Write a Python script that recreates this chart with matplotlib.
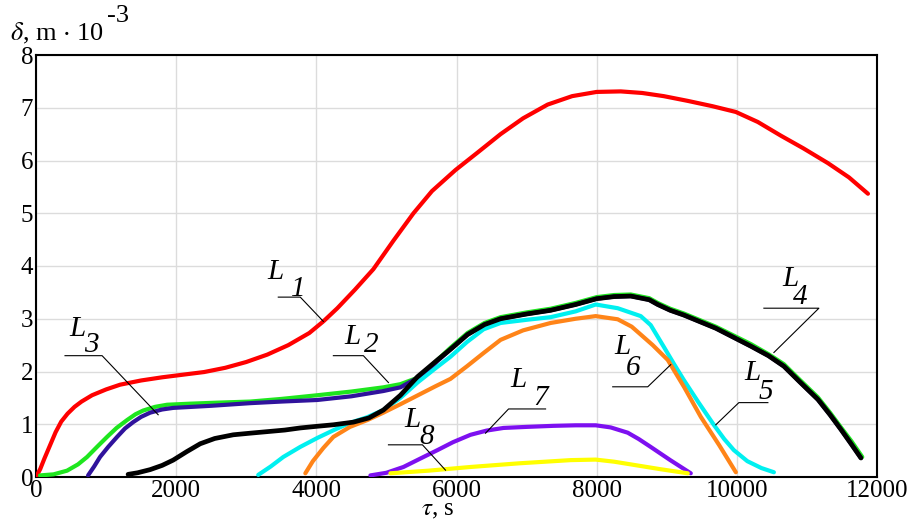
import numpy as np
import matplotlib.pyplot as plt

plt.rcParams['font.family'] = ['Liberation Serif', 'DejaVu Serif']
plt.rcParams['mathtext.fontset'] = 'stix'

# curves, tau in s, delta in m*1e-3
x_l1 = [0, 60, 120, 200, 280, 360, 450, 550, 650, 800, 1000, 1200, 1500, 1800, 2100,
        2400, 2700, 3000, 3300, 3600, 3900, 4100, 4300, 4550, 4814, 5100, 5386, 5650,
        5986, 6300, 6629, 6950, 7300, 7650, 8000, 8343, 8650, 8957, 9300, 9650, 9986,
        10300, 10629, 10950, 11300, 11600, 11871]
y_l1 = [0, 0.15, 0.35, 0.6, 0.85, 1.05, 1.2, 1.33, 1.43, 1.55, 1.66, 1.75, 1.83, 1.89, 1.94,
        1.99, 2.07, 2.18, 2.32, 2.5, 2.73, 2.95, 3.2, 3.55, 3.94, 4.48, 5.0, 5.42,
        5.82, 6.15, 6.5, 6.8, 7.06, 7.22, 7.30, 7.31, 7.28, 7.22, 7.13, 7.03, 6.92,
        6.73, 6.47, 6.23, 5.95, 5.68, 5.37]

x_green = [57, 250, 443, 600, 729, 870, 1014, 1150, 1300, 1420, 1529, 1700, 1871, 2200,
           2600, 3057, 3500, 4014, 4500, 4957, 5200, 5443, 5600, 5729, 5914, 6157, 6400,
           6629, 7000, 7343, 7700, 8000, 8250, 8486, 8750, 8871, 9050, 9243, 9700, 10200,
           10450, 10671, 10900, 11157, 11330, 11486, 11640, 11790]
y_green = [0.03, 0.05, 0.12, 0.24, 0.38, 0.57, 0.76, 0.93, 1.08, 1.19, 1.26, 1.33, 1.37, 1.39,
           1.41, 1.43, 1.48, 1.55, 1.62, 1.70, 1.76, 1.88, 2.05, 2.22, 2.45, 2.73, 2.92,
           3.03, 3.12, 3.19, 3.30, 3.41, 3.45, 3.46, 3.39, 3.30, 3.19, 3.10, 2.85, 2.52,
           2.33, 2.14, 1.84, 1.51, 1.22, 0.94, 0.67, 0.38]

x_blue = [743, 830, 914, 1030, 1157, 1270, 1386, 1500, 1629, 1800, 1957, 2500, 3057, 3500,
          4014, 4500, 4957, 5200, 5443, 5600, 5729, 5914, 6157, 6400, 6629, 7000, 7343,
          7700, 8000, 8250, 8486, 8750, 8871, 9050, 9243, 9700, 10200, 10450, 10671,
          10900, 11157, 11330, 11486, 11630, 11771]
y_blue = [0.03, 0.2, 0.38, 0.57, 0.76, 0.92, 1.04, 1.14, 1.22, 1.28, 1.31, 1.35, 1.40, 1.43,
          1.46, 1.53, 1.63, 1.70, 1.88, 2.03, 2.20, 2.42, 2.70, 2.89, 3.00, 3.09, 3.16,
          3.27, 3.38, 3.42, 3.43, 3.36, 3.27, 3.16, 3.07, 2.82, 2.48, 2.30, 2.10,
          1.80, 1.47, 1.18, 0.90, 0.63, 0.36]

x_l4 = [1314, 1450, 1629, 1800, 1957, 2150, 2343, 2550, 2814, 3050, 3300, 3550, 3771,
        4000, 4243, 4529, 4750, 4957, 5200, 5443, 5729, 5914, 6157, 6400, 6629, 7000,
        7343, 7700, 8000, 8250, 8486, 8750, 8871, 9050, 9243, 9700, 10200, 10450, 10671,
        10900, 11157, 11330, 11486, 11630, 11771]
y_l4 = [0.05, 0.08, 0.14, 0.22, 0.32, 0.48, 0.63, 0.73, 0.80, 0.83, 0.86, 0.89, 0.93,
        0.96, 0.99, 1.04, 1.12, 1.27, 1.55, 1.90, 2.22, 2.42, 2.70, 2.89, 3.00, 3.09,
        3.16, 3.27, 3.38, 3.42, 3.43, 3.36, 3.27, 3.16, 3.07, 2.82, 2.48, 2.30, 2.10,
        1.80, 1.47, 1.18, 0.90, 0.63, 0.36]

x_l5 = [3171, 3350, 3529, 3770, 4014, 4250, 4486, 4720, 4957, 5200, 5443, 5680, 5914,
        6150, 6386, 6629, 7000, 7343, 7700, 7986, 8300, 8629, 8771, 8957, 9100, 9243,
        9450, 9671, 9820, 9957, 10150, 10350, 10529]
y_l5 = [0.04, 0.2, 0.38, 0.57, 0.74, 0.89, 1.03, 1.13, 1.27, 1.50, 1.79, 2.04, 2.28,
        2.56, 2.80, 2.92, 2.98, 3.03, 3.14, 3.27, 3.20, 3.05, 2.88, 2.47, 2.15, 1.84,
        1.42, 0.99, 0.72, 0.51, 0.30, 0.17, 0.09]

x_l6 = [3843, 3950, 4100, 4243, 4480, 4729, 4957, 5200, 5450, 5700, 5914, 6150, 6386,
        6629, 6950, 7343, 7700, 7986, 8300, 8500, 8629, 8800, 9014, 9250, 9486, 9750, 9986]
y_l6 = [0.07, 0.3, 0.55, 0.76, 0.95, 1.08, 1.22, 1.38, 1.55, 1.72, 1.86, 2.1, 2.35,
        2.6, 2.78, 2.92, 3.0, 3.05, 2.99, 2.85, 2.70, 2.5, 2.22, 1.7, 1.14, 0.6, 0.09]

x_l7 = [4771, 5000, 5243, 5500, 5729, 5950, 6200, 6430, 6671, 7000, 7386, 7700, 7986,
        8200, 8443, 8600, 8771, 9050, 9343]
y_l7 = [0.03, 0.08, 0.19, 0.36, 0.51, 0.66, 0.80, 0.88, 0.93, 0.95, 0.97, 0.98, 0.98,
        0.94, 0.84, 0.72, 0.57, 0.32, 0.07]

x_l8 = [5057, 5600, 6200, 6900, 7629, 7986, 8250, 8529, 8900, 9300]
y_l8 = [0.07, 0.12, 0.19, 0.26, 0.32, 0.33, 0.29, 0.23, 0.15, 0.07]

# labels: subscript, L position, digit position, leader line points
labels = ["1", "2", "3", "4", "5", "6", "7", "8"]
lab_L = [(3414, 3.88), (4514, 2.66), (586, 2.80), (10771, 3.75),
         (10229, 1.98), (8371, 2.47), (6886, 1.84), (5371, 1.08)]
lab_d = [(3740, 3.56), (4783, 2.51), (783, 2.51), (10911, 3.41),
         (10411, 1.62), (8526, 2.07), (7197, 1.50), (5569, 0.76)]
leaders = [
    [(3457, 3.41), (3771, 3.41), (4100, 2.95)],
    [(4243, 2.30), (4671, 2.30), (5029, 1.79)],
    [(414, 2.30), (943, 2.30), (1743, 1.18)],
    [(10386, 3.20), (11171, 3.20), (10529, 2.36)],
    [(10443, 1.41), (10029, 1.41), (9700, 0.99)],
    [(8229, 1.71), (8729, 1.71), (9057, 2.13)],
    [(7271, 1.29), (6743, 1.29), (6414, 0.83)],
    [(5029, 0.61), (5514, 0.61), (5843, 0.13)],
]

fig = plt.figure(figsize=(9.1, 5.19), dpi=100)
ax = fig.add_axes([36 / 910, 42 / 519, 841 / 910, 422 / 519])

kw = dict(lw=3.0, solid_joinstyle="round", solid_capstyle="round", zorder=3)
ax.plot(x_l1, y_l1, color="#ff0000", **kw)
ax.plot(x_green, y_green, color="#1ee61e", **kw)
ax.plot(x_blue, y_blue, color="#30139c", **kw)
ax.plot(x_l5, y_l5, color="#00f0f0", **kw)
ax.plot(x_l6, y_l6, color="#ff8418", **kw)
ax.plot(x_l4, y_l4, color="black", lw=3.4, solid_joinstyle="round",
        solid_capstyle="round", zorder=3.5)
ax.plot(x_l7, y_l7, color="#7d10f0", **kw)
ax.plot(x_l8, y_l8, color="#ffff00", **kw)

for name, pL, pd, pts in zip(labels, lab_L, lab_d, leaders):
    xs = [p[0] for p in pts]
    ys = [p[1] for p in pts]
    ax.plot(xs, ys, color="black", lw=0.8, zorder=4)
    ax.text(pL[0], pL[1], "L", style="italic", fontsize=21, ha="center", va="center", zorder=5)
    ax.text(pd[0], pd[1], name, style="italic", fontsize=21, ha="center", va="center", zorder=5)

ax.set_xlim(0, 12000)
ax.set_ylim(0, 8)
ax.set_xticks(np.arange(0, 12001, 2000))
ax.set_yticks(np.arange(0, 9, 1))
ax.tick_params(length=0, labelsize=18, pad=2)
ax.grid(color="#dcdcdc", lw=1.0)
ax.set_axisbelow(True)
for s in ax.spines.values():
    s.set_linewidth(1.5)

fig.text(10 / 910, 1 - 40 / 519, r"$\delta$, m $\cdot$ 10", fontsize=19, va="baseline")
fig.text(107 / 910, 1 - 22 / 519, "-3", fontsize=19, va="baseline")
fig.text(438 / 910, 1 - 515 / 519, r"$\tau$, s", fontsize=18, ha="center", va="baseline")

fig.savefig("out.png", dpi=100)
